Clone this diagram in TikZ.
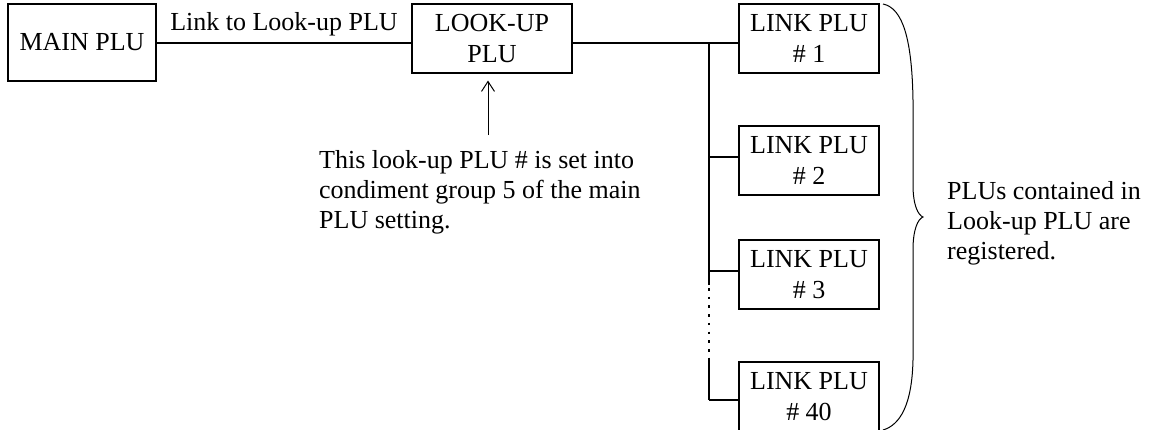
\documentclass[tikz,border=0pt]{standalone}
\usepackage{fontspec}
\setmainfont{Liberation Serif}
\usetikzlibrary{arrows.meta}
\begin{document}
\begin{tikzpicture}[x=1pt,y=-1pt,
  every node/.style={font=\fontsize{26}{30}\selectfont},
  box/.style={draw, line width=1.1pt, inner sep=0pt, align=center, font=\fontsize{26}{31}\selectfont},
  linkbox/.style={box, minimum width=140pt, minimum height=69pt},
  conn/.style={line width=1.1pt},
  note/.style={inner sep=0pt, align=left, anchor=north west}]
\useasboundingbox (0,0) rectangle (1149,429);
% boxes
\node[box, minimum width=148pt, minimum height=77pt] (main) at (82,42.5) {MAIN PLU};
\node[box, minimum width=160pt, minimum height=69pt] (lookup) at (492,38.5) {LOOK-UP\\PLU};
\node[linkbox] (l1) at (809,38.5) {LINK PLU\\\# 1};
\node[linkbox] (l2) at (809,160.5) {LINK PLU\\\# 2};
\node[linkbox] (l3) at (809,274.5) {LINK PLU\\\# 3};
\node[linkbox] (l4) at (809,396.5) {LINK PLU\\\# 40};
% labels
\node[inner sep=0pt, anchor=base] (lbl) at (284,30) {Link to Look-up PLU};
\node[note] (n1) at (319,150) {This look-up PLU \# is set into\\condiment group 5 of the main\\PLU setting.};
\node[note] (n2) at (947,181) {PLUs contained in\\Look-up PLU are\\registered.};
% junction coordinates
\coordinate (j) at (709,43);
\coordinate (b2) at (709,157);
\coordinate (b3) at (709,271);
\coordinate (d1) at (709,285);
\coordinate (d2) at (709,360);
\coordinate (b4) at (709,400);
\coordinate (a0) at (488,135);
% connectors
\draw[conn] (main.east |- j) -- (lookup.west |- j);
\draw[conn] (lookup.east |- j) -- (l1.west |- j);
\draw[conn] (j) -- (b2) -- (b3) -- (d1);
\draw[line width=2.4pt, dash pattern=on 2.6pt off 6.1pt] (d1) ++(0,3) -- (d2);
\draw[conn] (d2) -- (b4);
\draw[conn] (b2) -- (l2.west |- b2);
\draw[conn] (b3) -- (l3.west |- b3);
\draw[conn] (b4) -- (l4.west |- b4);
\draw[line width=1pt, shorten >=7pt, -{Straight Barb[length=10pt,width=13pt,line width=1pt]}] (a0) -- (a0 |- lookup.south);
% brace
\draw[line width=1pt] (883,4) .. controls (903,8) and (912,40) .. (913,100) -- (913,185)
  .. controls (913,205) and (918,215) .. (923,217)
  .. controls (918,219) and (913,229) .. (913,250) -- (913,360)
  .. controls (912,405) and (900,425) .. (883,430);
\end{tikzpicture}
\end{document}
